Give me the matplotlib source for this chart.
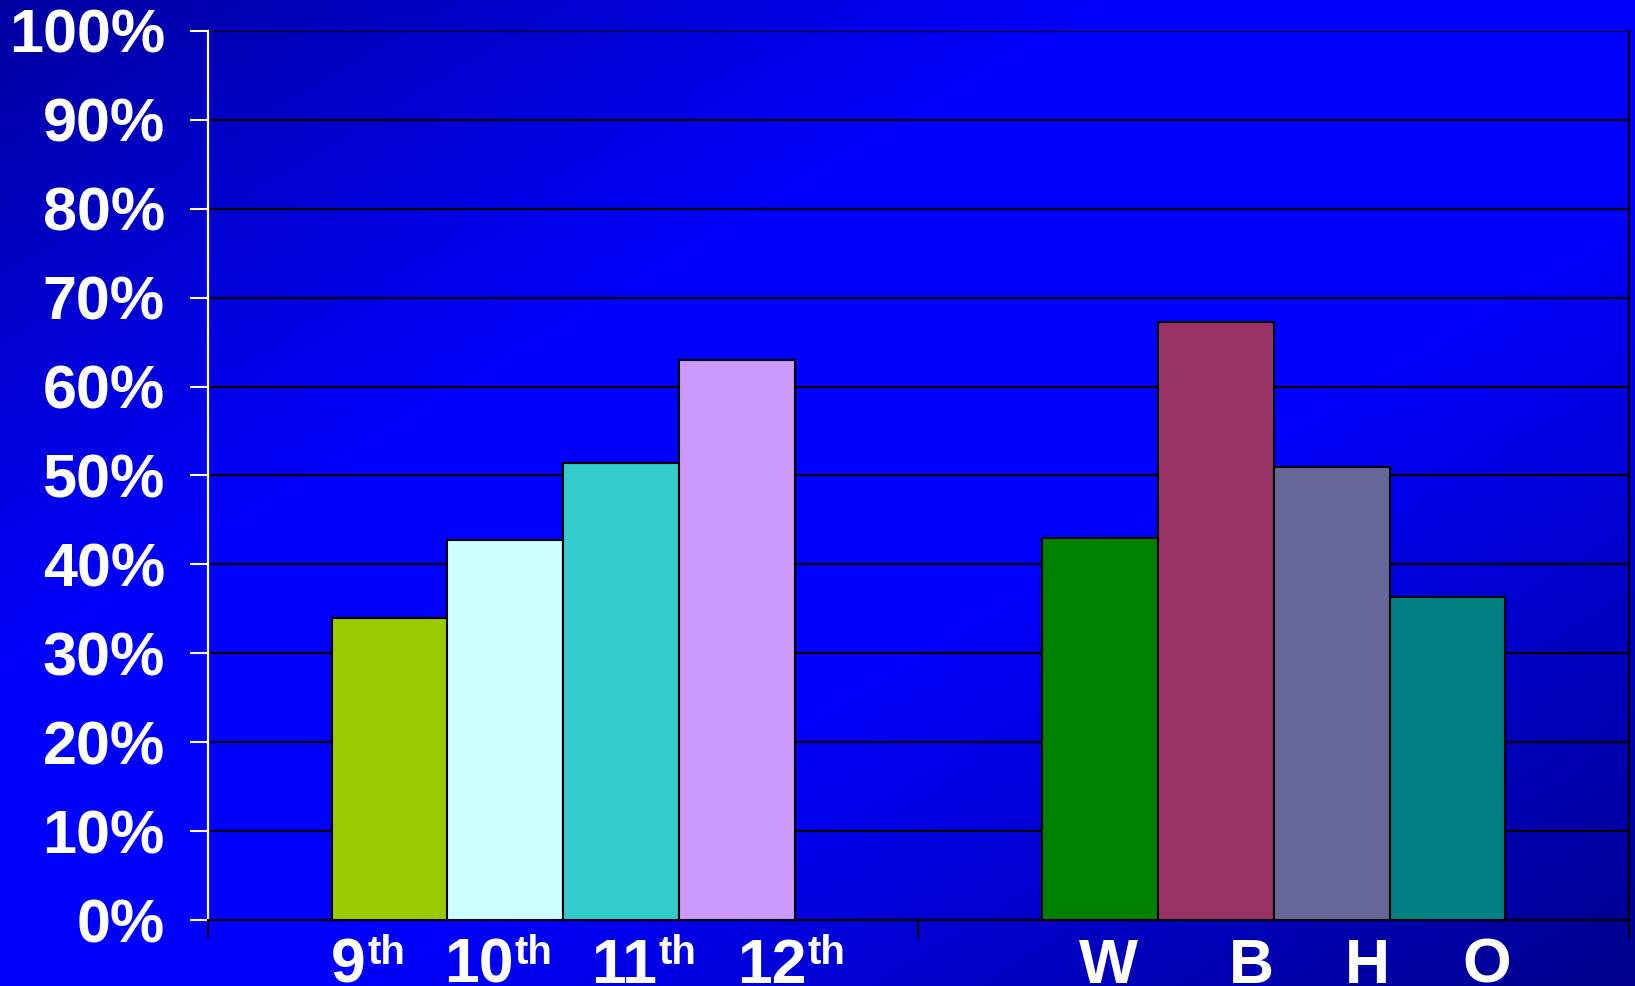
import matplotlib
matplotlib.use('Agg')
import matplotlib.pyplot as plt
import numpy as np

plt.rcParams['font.family'] = ['Liberation Sans', 'DejaVu Sans']
plt.rcParams['font.weight'] = 'bold'

# grade group and race group
grades = ['9', '10', '11', '12']
grade_vals = [34.0, 42.7, 51.4, 63.0]
grade_colors = ['#99CC00', '#CCFFFF', '#33CCCC', '#CC99FF']

races = ['W', 'B', 'H', 'O']
race_vals = [43.0, 67.3, 50.9, 36.3]
race_colors = ['#008000', '#993366', '#666699', '#008080']

yticks = [0, 10, 20, 30, 40, 50, 60, 70, 80, 90, 100]

# where the category text sits under each group
grade_label_x = [0.222, 0.430, 0.632, 0.842]
race_label_x = [1.268, 1.469, 1.632, 1.800]

fig = plt.figure(figsize=(16.35, 9.86), dpi=100)

# diagonal blue background, dark in two corners
bg = fig.add_axes([0, 0, 1, 1])
gx = np.linspace(0, 1, 400)
gy = np.linspace(0, 1, 250)
X, Y = np.meshgrid(gx, gy)
t = (X + Y) / 2
blue = np.interp(t, [0, 0.35, 0.6, 1], [160, 255, 255, 140]) / 255
img = np.zeros((250, 400, 3))
img[:, :, 2] = blue
bg.imshow(img, aspect='auto', extent=[0, 1, 0, 1], origin='upper')
bg.axis('off')

ax = fig.add_axes([0.1272, 0.0669, 0.9963 - 0.1272, 0.9686 - 0.0669])
ax.set_facecolor('none')

w = 0.163
offs = (np.arange(4) - 1.5) * w
ax.bar(0.5 + offs, grade_vals, width=w, color=grade_colors,
       edgecolor='black', linewidth=1.5, zorder=3)
ax.bar(1.5 + offs, race_vals, width=w, color=race_colors,
       edgecolor='black', linewidth=1.5, zorder=3)

ax.set_xlim(0, 2)
ax.set_ylim(0, 100)
ax.set_yticks(yticks)
ax.set_yticklabels([str(v) + '%' for v in yticks])
ax.yaxis.grid(True, color='black', linewidth=1.6, zorder=0)
ax.set_axisbelow(True)

ax.set_xticks([0, 1, 2])
ax.set_xticklabels([])
ax.tick_params(axis='x', colors='black', length=13, width=1.5, direction='out')
ax.tick_params(axis='y', colors='white', length=13, width=1.5, pad=18,
               labelsize=44, labelcolor='white')

ax.spines['top'].set_visible(False)
ax.spines['left'].set_color('white')
ax.spines['right'].set_color('black')
ax.spines['bottom'].set_color('black')
for s in ax.spines.values():
    s.set_linewidth(1.6)

# grade labels: number plus raised "th"
for g, x in zip(grades, grade_label_x):
    ax.annotate(g, xy=(x, 0), xycoords=('data', 'axes fraction'),
                xytext=(0, -12), textcoords='offset points',
                ha='right', va='top', fontsize=45, color='white',
                fontweight='bold', annotation_clip=False)
    ax.annotate('th', xy=(x, 0), xycoords=('data', 'axes fraction'),
                xytext=(1, -10), textcoords='offset points',
                ha='left', va='top', fontsize=29, color='white',
                fontweight='bold', annotation_clip=False)

for r, x in zip(races, race_label_x):
    ax.annotate(r, xy=(x, 0), xycoords=('data', 'axes fraction'),
                xytext=(0, -12), textcoords='offset points',
                ha='center', va='top', fontsize=45, color='white',
                fontweight='bold', annotation_clip=False)

fig.savefig('out.png', dpi=100)
